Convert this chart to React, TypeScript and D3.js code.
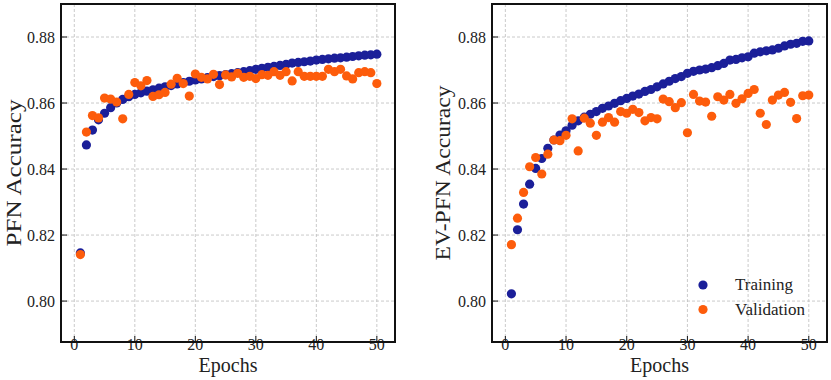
import React, { useRef, useEffect } from "react";
import * as d3 from "d3";

// epochs 1..50 (x categories)
const epochs = d3.range(1, 51);

const pfnTrain = [
  0.8146, 0.8473, 0.8518, 0.8549, 0.8569, 0.8586, 0.86, 0.8611, 0.8619, 0.8626,
  0.8631, 0.8636, 0.864, 0.8645, 0.8649, 0.8653, 0.8658, 0.8662, 0.8666, 0.867,
  0.8673, 0.8677, 0.868, 0.8683, 0.8686, 0.8689, 0.8692, 0.8695, 0.8698, 0.8702,
  0.8705, 0.8708, 0.8711, 0.8714, 0.8717, 0.8721, 0.8723, 0.8725, 0.8727, 0.873,
  0.8732, 0.8734, 0.8736, 0.8737, 0.8739, 0.8741, 0.8743, 0.8745, 0.8746, 0.8748,
];
const pfnVal = [
  0.8141, 0.8512, 0.8562, 0.8555, 0.8615, 0.8612, 0.8603, 0.8552, 0.8626, 0.8662,
  0.8652, 0.8668, 0.862, 0.8625, 0.8632, 0.8657, 0.8675, 0.8659, 0.8621, 0.8688,
  0.8678, 0.8673, 0.8687, 0.8656, 0.8685, 0.8679, 0.869, 0.8678, 0.8681, 0.8674,
  0.8686, 0.8684, 0.8695, 0.8684, 0.8695, 0.8667, 0.8695, 0.8681, 0.8681, 0.8681,
  0.8681, 0.8702, 0.8695, 0.8702, 0.8682, 0.8673, 0.8692, 0.8695, 0.8692, 0.8659,
];
const evTrain = [
  0.8022, 0.8216, 0.8294, 0.8354, 0.8402, 0.8432, 0.8463, 0.8488, 0.8503, 0.8516,
  0.8533, 0.8546, 0.8557, 0.8566, 0.8574, 0.8584, 0.8591, 0.8599, 0.8607, 0.8614,
  0.8621, 0.8627, 0.8635, 0.8641, 0.8649, 0.8658, 0.8666, 0.8674, 0.868, 0.869,
  0.8696, 0.87, 0.8703, 0.8707, 0.8713, 0.872, 0.873, 0.8732, 0.8737, 0.874,
  0.8751, 0.8755, 0.8758, 0.8761, 0.8766, 0.8773, 0.8778, 0.8781, 0.8787, 0.8788,
];
const evVal = [
  0.8171, 0.8251, 0.8329, 0.8407, 0.8435, 0.8385, 0.8445, 0.8488, 0.8486, 0.8502,
  0.8552, 0.8455, 0.8554, 0.8539, 0.8502, 0.8542, 0.8556, 0.8542, 0.8574, 0.8569,
  0.8581, 0.8571, 0.8546, 0.8556, 0.8552, 0.8612, 0.8604, 0.8586, 0.8601, 0.851,
  0.8626, 0.8606, 0.8603, 0.856, 0.8619, 0.8609, 0.8626, 0.8599, 0.8613, 0.8629,
  0.8641, 0.8569, 0.8535, 0.8609, 0.8624, 0.8632, 0.8602, 0.8553, 0.8622, 0.8624,
];

const xTicks = [0, 10, 20, 30, 40, 50];
const yTicks = [0.8, 0.82, 0.84, 0.86, 0.88];
const seriesNames = ["Training", "Validation"];
const colors = ["#1b1f99", "#fd5c0b"];

const FONT = "Liberation Serif, DejaVu Serif, Times New Roman, serif";

const App = () => {
  const svgRef = useRef<SVGSVGElement>(null);

  useEffect(() => {
    const svg = d3.select(svgRef.current);
    svg.selectAll("*").remove();

    const panels = [
      { left: 61, right: 395, label: "PFN Accuracy", labelX: 14, labelLen: 147, train: pfnTrain, val: pfnVal, legend: false },
      { left: 492, right: 827, label: "EV-PFN Accuracy", labelX: 443, labelLen: 175, train: evTrain, val: evVal, legend: true },
    ];
    const top = 4;
    const bottom = 342;

    panels.forEach((p) => {
      const x = d3.scaleLinear().domain([-2.2, 53]).range([p.left, p.right]);
      const y = d3.scaleLinear().domain([0.7876, 0.89]).range([bottom, top]);
      const g = svg.append("g").attr("font-family", FONT);

      // grid
      g.selectAll(".gx")
        .data(xTicks)
        .enter()
        .append("line")
        .attr("x1", (d) => x(d))
        .attr("x2", (d) => x(d))
        .attr("y1", top)
        .attr("y2", bottom)
        .attr("stroke", "#bdbdbd")
        .attr("stroke-width", 0.8)
        .attr("stroke-dasharray", "3,2");
      g.selectAll(".gy")
        .data(yTicks)
        .enter()
        .append("line")
        .attr("x1", p.left)
        .attr("x2", p.right)
        .attr("y1", (d) => y(d))
        .attr("y2", (d) => y(d))
        .attr("stroke", "#bdbdbd")
        .attr("stroke-width", 0.8)
        .attr("stroke-dasharray", "3,2");

      // inward ticks
      g.selectAll(".tx")
        .data(xTicks)
        .enter()
        .append("line")
        .attr("x1", (d) => x(d))
        .attr("x2", (d) => x(d))
        .attr("y1", bottom)
        .attr("y2", bottom - 6)
        .attr("stroke", "#111")
        .attr("stroke-width", 1);
      g.selectAll(".ty")
        .data(yTicks)
        .enter()
        .append("line")
        .attr("x1", p.left)
        .attr("x2", p.left + 6)
        .attr("y1", (d) => y(d))
        .attr("y2", (d) => y(d))
        .attr("stroke", "#111")
        .attr("stroke-width", 1);

      // tick labels
      g.selectAll(".lx")
        .data(xTicks)
        .enter()
        .append("text")
        .attr("x", (d) => x(d))
        .attr("y", 350)
        .attr("text-anchor", "middle")
        .attr("font-size", 16)
        .attr("fill", "#222")
        .text((d) => d);
      g.selectAll(".ly")
        .data(yTicks)
        .enter()
        .append("text")
        .attr("x", p.left - 6)
        .attr("y", (d) => y(d))
        .attr("dy", "0.35em")
        .attr("text-anchor", "end")
        .attr("font-size", 16)
        .attr("fill", "#222")
        .text((d) => d3.format(".2f")(d));

      // axis titles
      g.append("text")
        .attr("x", (p.left + p.right) / 2)
        .attr("y", 372)
        .attr("text-anchor", "middle")
        .attr("font-size", 20)
        .attr("fill", "#222")
        .text("Epochs");
      g.append("text")
        .attr("transform", `translate(${p.labelX}, ${(top + bottom) / 2}) rotate(-90)`)
        .attr("text-anchor", "middle")
        .attr("dy", "0.35em")
        .attr("textLength", p.labelLen)
        .attr("lengthAdjust", "spacingAndGlyphs")
        .attr("font-size", 20)
        .attr("fill", "#222")
        .text(p.label);

      // points: training then validation on top
      [p.train, p.val].forEach((vals, i) => {
        g.selectAll(".pt" + i)
          .data(vals)
          .enter()
          .append("circle")
          .attr("cx", (d, j) => x(epochs[j]))
          .attr("cy", (d) => y(d))
          .attr("r", 4.6)
          .attr("fill", colors[i]);
      });

      // frame
      g.append("rect")
        .attr("x", p.left)
        .attr("y", top)
        .attr("width", p.right - p.left)
        .attr("height", bottom - top)
        .attr("fill", "none")
        .attr("stroke", "#111")
        .attr("stroke-width", 2);

      if (p.legend) {
        seriesNames.forEach((name, i) => {
          const ly = 285 + i * 24.5;
          g.append("circle")
            .attr("cx", 703)
            .attr("cy", ly)
            .attr("r", 4.6)
            .attr("fill", colors[i]);
          g.append("text")
            .attr("x", 735)
            .attr("y", ly)
            .attr("dy", "0.32em")
            .attr("font-size", 17)
            .attr("fill", "#222")
            .text(name);
        });
      }
    });
  }, []);

  return (
    <svg
      ref={svgRef}
      width={831}
      height={380}
      style={{ position: "absolute", left: 0, top: 0, background: "#fff" }}
    ></svg>
  );
};

export default App;
